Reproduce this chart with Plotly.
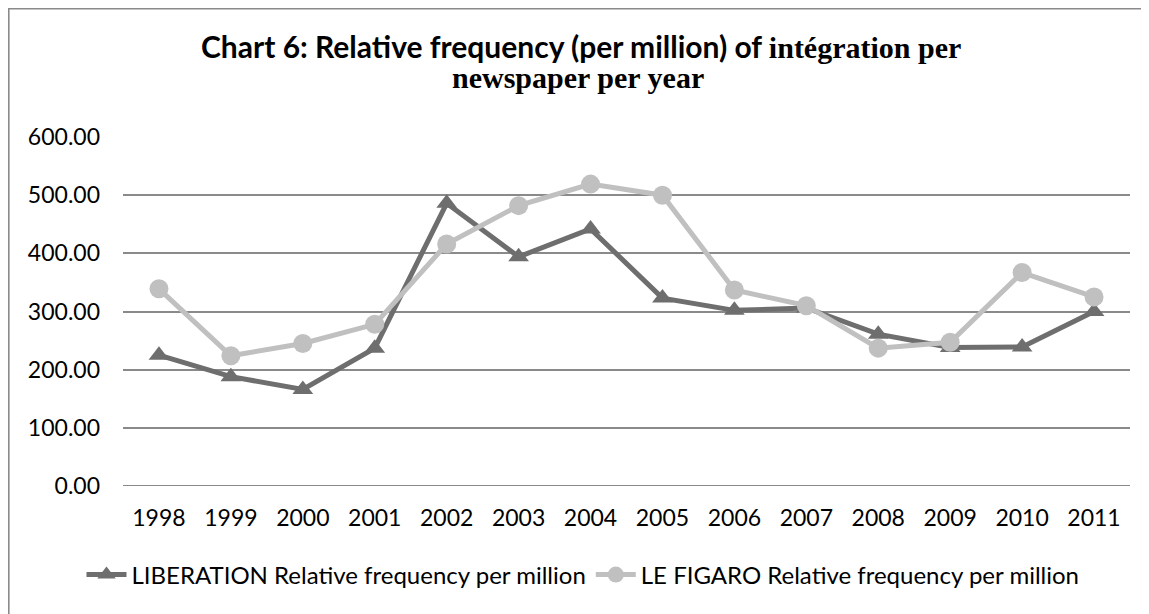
import plotly.graph_objects as go

years = ["1998", "1999", "2000", "2001", "2002", "2003", "2004", "2005",
         "2006", "2007", "2008", "2009", "2010", "2011"]
liberation = [225, 188, 166, 237, 486, 394, 442, 323, 302, 306, 261, 238, 239, 300]
figaro = [339, 224, 245, 278, 416, 482, 519, 500, 337, 310, 237, 247, 367, 325]
y_ticks = [0, 100, 200, 300, 400, 500, 600]

# page has an 8px body margin, so the figure is 8px smaller than the window
W, H = 1141, 606
L, R, T, B = 115, 19, 129, 128
pw, ph = W - L - R, H - T - B


def px_x(x):
    return (x - L) / pw


def px_y(y):
    return (H - B - y) / ph


GRID = "#8a8a8a"
fig = go.Figure()
fig.add_trace(go.Scatter(
    x=years, y=liberation, mode="lines+markers",
    name="LIBERATION Relative frequency per million",
    line=dict(color="#6e6e6e", width=5),
    marker=dict(symbol="triangle-up", size=18, color="#6e6e6e"),
))
fig.add_trace(go.Scatter(
    x=years, y=figaro, mode="lines+markers",
    name="LE FIGARO Relative frequency per million",
    line=dict(color="#c0c0c0", width=5),
    marker=dict(symbol="circle", size=19, color="#c0c0c0"),
))

serif = "font-family:Liberation Serif;font-size:30px"
fig.update_layout(
    width=W, height=H,
    margin=dict(l=L, r=R, t=T, b=B, autoexpand=False),
    paper_bgcolor="white", plot_bgcolor="white",
    font=dict(family="Lato, Open Sans, sans-serif", size=23, color="#000"),
    showlegend=True,
    legend=dict(orientation="h", x=px_x(575), xanchor="center",
                y=px_y(567), yanchor="middle",
                font=dict(size=24), itemwidth=40, tracegroupgap=0),
    xaxis=dict(type="category", range=[-0.5, 13.5], showgrid=False, showline=False,
               ticks="", zeroline=False, tickfont=dict(size=23),
               ticklabelstandoff=16),
    yaxis=dict(range=[0, 600], tickvals=y_ticks,
               ticktext=[f"{v:.2f}" for v in y_ticks],
               showgrid=True, gridcolor=GRID, gridwidth=2,
               zeroline=False, showline=False, ticks="",
               tickfont=dict(size=23), ticklabelstandoff=22),
    annotations=[
        dict(text=("<b>Chart 6: Relative frequency (per million) of "
                   f"<span style='{serif}'>intégration per</span></b>"),
             xref="paper", yref="paper", x=px_x(573), y=px_y(38),
             xanchor="center", yanchor="middle", showarrow=False,
             font=dict(size=30, family="Lato, sans-serif", color="#000")),
        dict(text=f"<b><span style='{serif}'>newspaper per year</span></b>",
             xref="paper", yref="paper", x=px_x(570), y=px_y(70),
             xanchor="center", yanchor="middle", showarrow=False,
             font=dict(size=30, family="Liberation Serif", color="#000")),
    ],
    shapes=[
        dict(type="line", xref="paper", yref="paper",
             x0=px_x(0.8), x1=px_x(0.8), y0=px_y(0), y1=px_y(H),
             line=dict(color=GRID, width=1.6), layer="below"),
        dict(type="line", xref="paper", yref="paper",
             x0=px_x(0), x1=px_x(W), y0=px_y(0.8), y1=px_y(0.8),
             line=dict(color=GRID, width=1.6), layer="below"),
        dict(type="line", xref="paper", yref="y", x0=0, x1=1, y0=0, y1=0,
             line=dict(color=GRID, width=2), layer="below"),
    ],
)

fig.write_html("out.html")
